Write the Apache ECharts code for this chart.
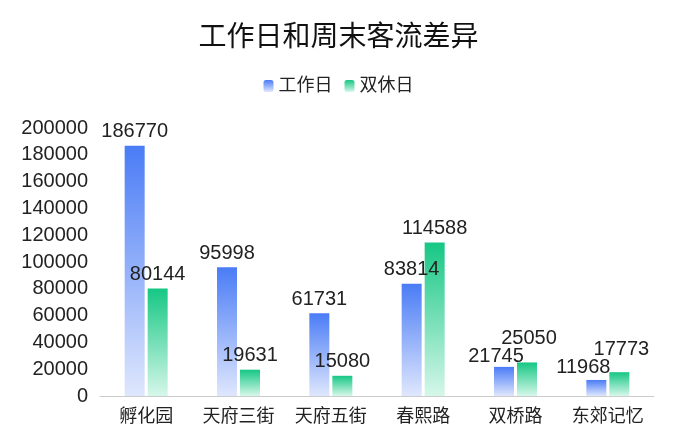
<!DOCTYPE html>
<html>
<head>
<meta charset="utf-8">
<script src="https://cdn.jsdelivr.net/npm/echarts@6/dist/echarts.min.js"></script>
<style>
  html, body { margin: 0; padding: 0; background: #fff; }
  #chart { width: 677px; height: 446px; }
</style>
</head>
<body>
<div id="chart"></div>
<script>
// Data
const categories = ['孵化园', '天府三街', '天府五街', '春熙路', '双桥路', '东郊记忆'];
const workday = [186770, 95998, 61731, 83814, 21745, 11968];
const weekend = [80144, 19631, 15080, 114588, 25050, 17773];

const font = '"Liberation Sans", Arial, "Noto Sans CJK SC", sans-serif';

function grad(top, bottom) {
    return new echarts.graphic.LinearGradient(0, 0, 0, 1, [
        { offset: 0, color: top },
        { offset: 1, color: bottom }
    ]);
}

// labels that got pushed around to avoid overlapping: [seriesIndex, dataIndex] -> shift
const labelShift = {
    '0-4': { dx: -8, dy: 4 },
    '1-4': { dx: 2, dy: -10 },
    '0-5': { dx: -13, dy: 2 },
    '1-5': { dx: 2, dy: -9 }
};

const chart = echarts.init(document.getElementById('chart'));

const labelStyle = {
    show: true,
    position: 'top',
    distance: 4,
    color: '#222',
    fontSize: 20,
    fontFamily: font
};

function layoutLabel(params) {
    return labelShift[params.seriesIndex + '-' + params.dataIndex] || {};
}

const option = {
    backgroundColor: '#fff',
    title: {
        text: '工作日和周末客流差异',
        left: 'center',
        top: 19,
        textStyle: { fontSize: 28, fontWeight: 'normal', color: '#111', fontFamily: font }
    },
    legend: {
        top: 72,
        left: 'center',
        itemWidth: 10,
        itemHeight: 12,
        itemGap: 12,
        textStyle: { fontSize: 18, color: '#222', fontFamily: font },
        data: ['工作日', '双休日']
    },
    grid: { left: 100, right: 23, top: 128, bottom: 50 },
    xAxis: {
        type: 'category',
        data: categories,
        axisLine: { lineStyle: { color: '#ccc' } },
        axisTick: { length: 6, lineStyle: { color: '#ccc' } },
        axisLabel: { interval: 0, fontSize: 18, color: '#222', margin: 12, fontFamily: font }
    },
    yAxis: {
        type: 'value',
        min: 0,
        max: 200000,
        interval: 20000,
        splitLine: { show: false },
        axisLine: { show: false },
        axisTick: { show: false },
        axisLabel: {
            fontSize: 20, color: '#222', margin: 12, fontFamily: font,
            formatter: v => String(v)
        }
    },
    series: [
        {
            name: '工作日',
            type: 'bar',
            barWidth: 20,
            barGap: '15%',
            itemStyle: { color: grad('#4a7cf6', '#dfe7fd') },
            label: labelStyle,
            labelLayout: layoutLabel,
            data: workday
        },
        {
            name: '双休日',
            type: 'bar',
            barWidth: 20,
            itemStyle: { color: grad('#16c784', '#d6f7ea') },
            label: labelStyle,
            labelLayout: layoutLabel,
            data: weekend
        }
    ]
};

chart.setOption(option);
</script>
</body>
</html>
